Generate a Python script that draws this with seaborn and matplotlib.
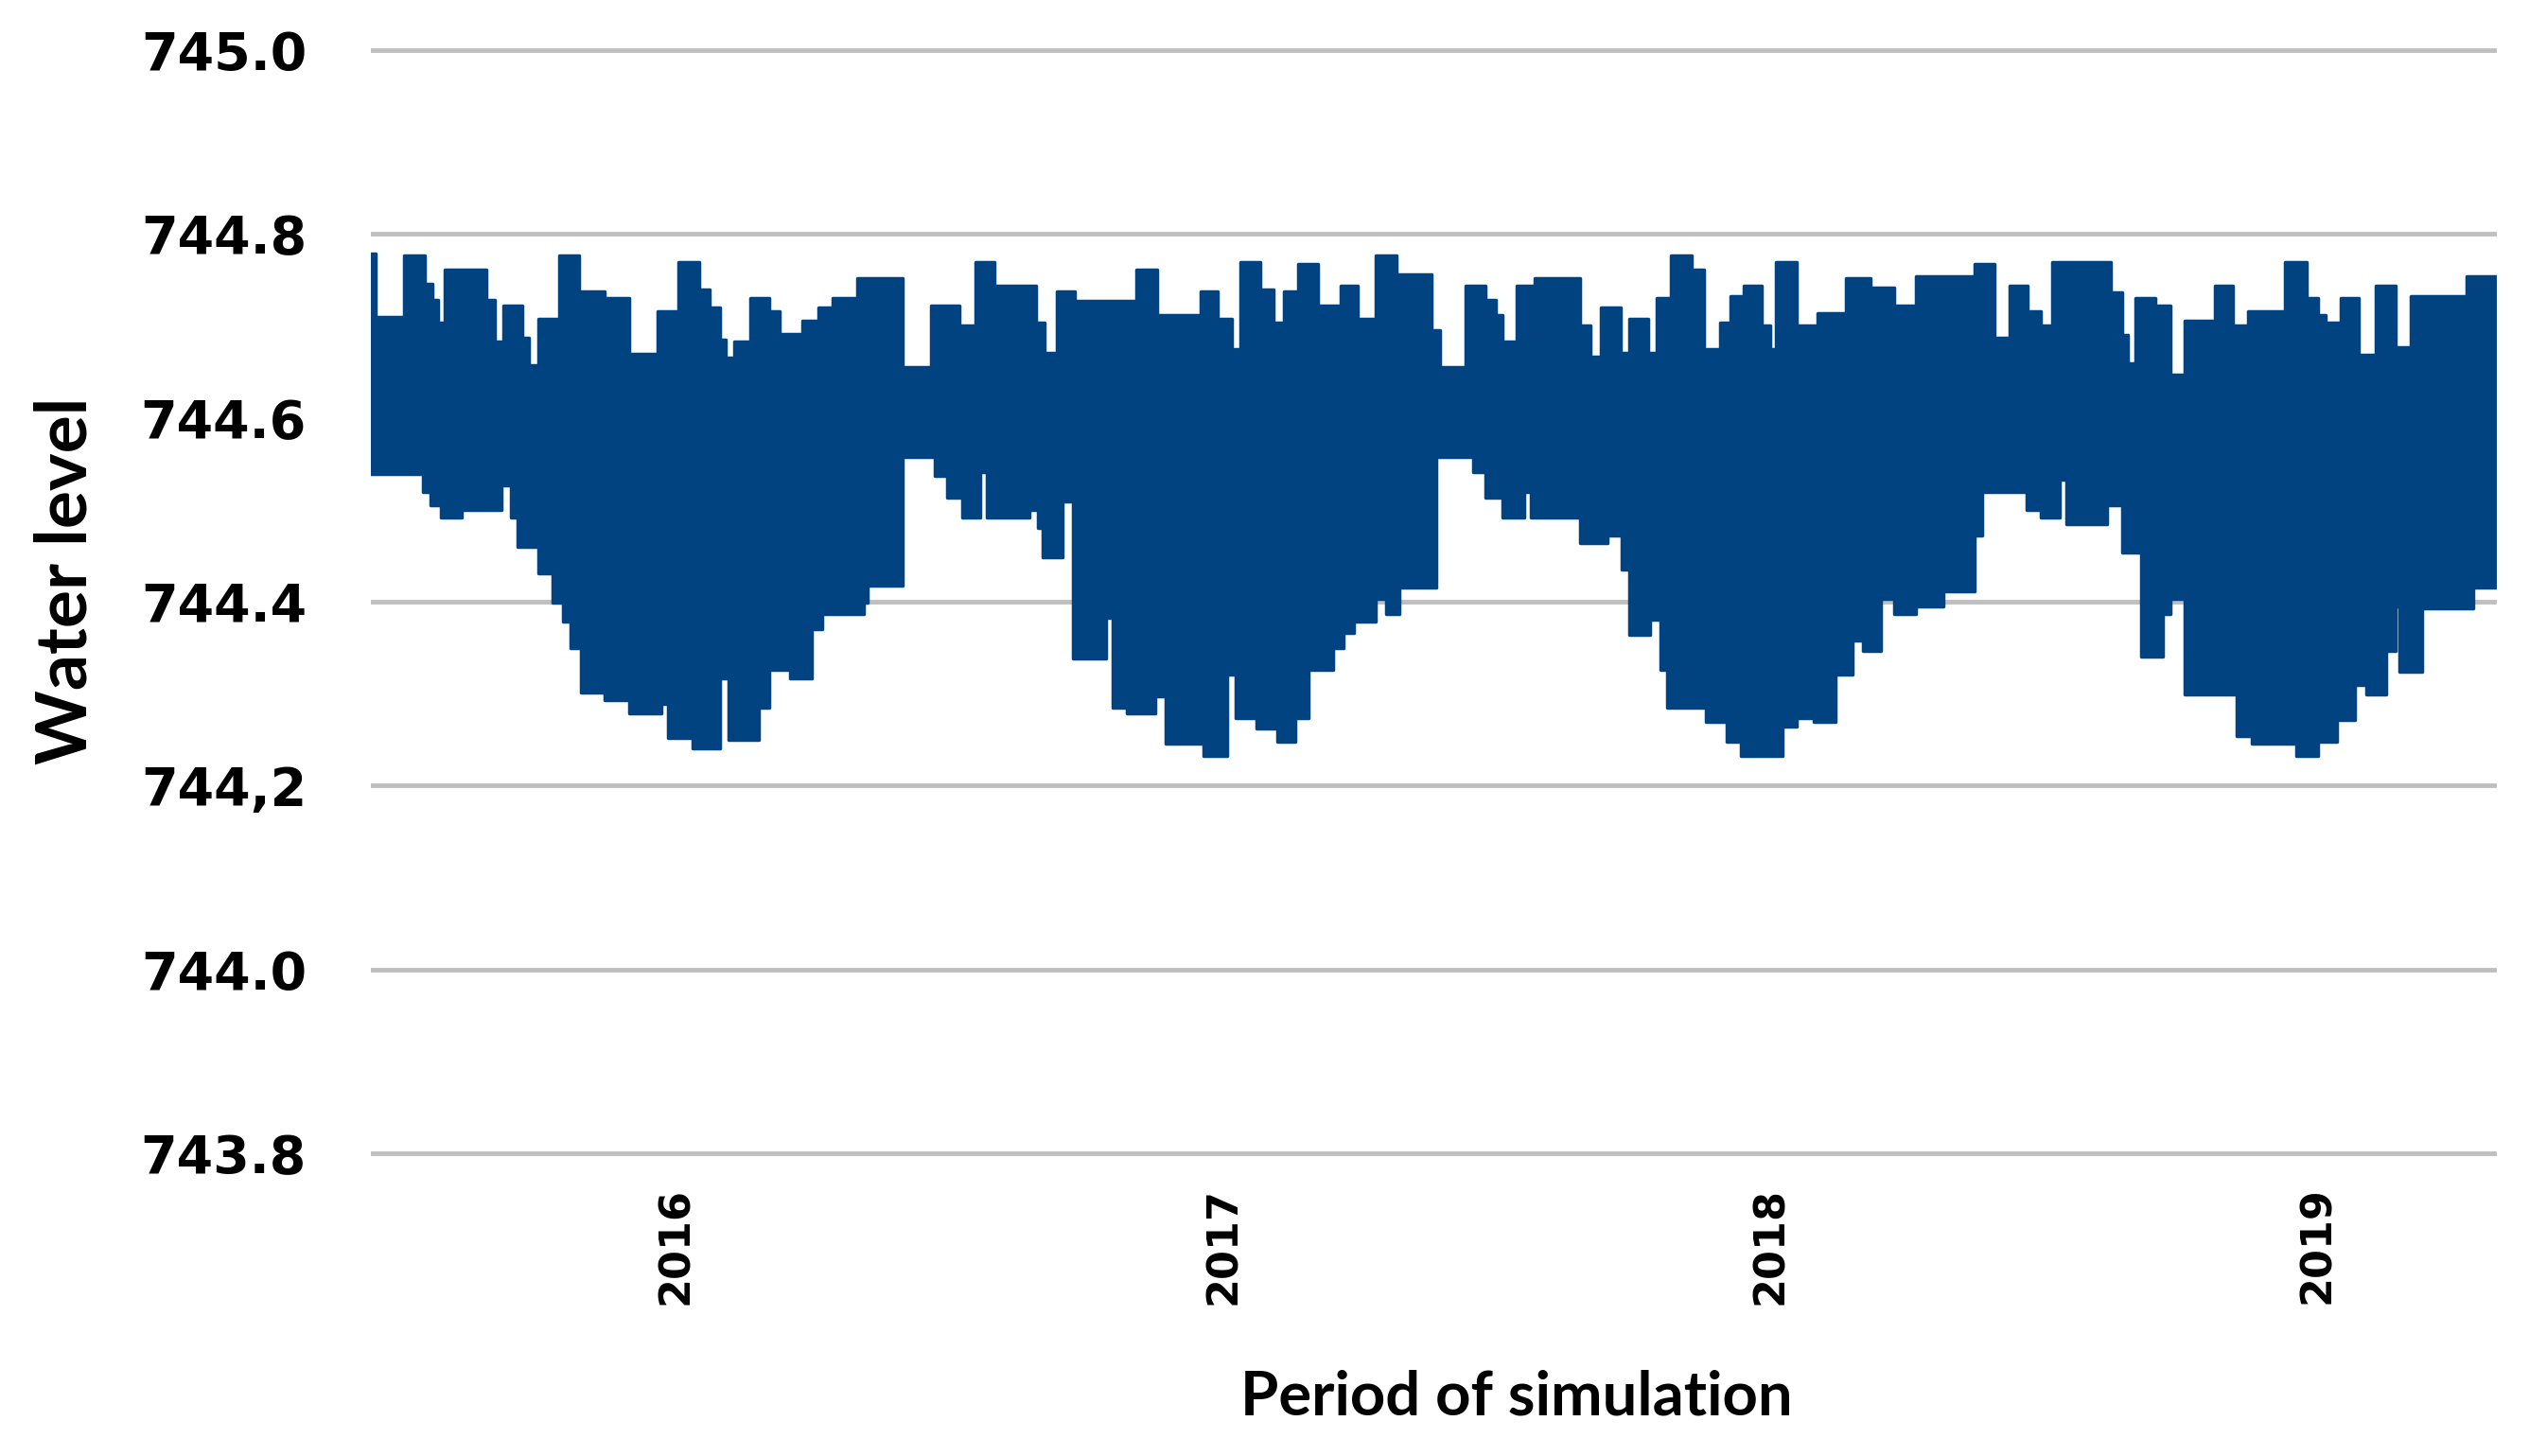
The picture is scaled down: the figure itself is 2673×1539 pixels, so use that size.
import matplotlib

matplotlib.use("Agg")
import matplotlib.pyplot as plt
import numpy as np
import seaborn as sns

# simulated water level, read off as the upper / lower envelope of the daily signal
# time in decimal years, level in m
upper_t = [2015.442, 2015.451, 2015.502, 2015.540, 2015.555, 2015.565, 2015.577, 2015.652,
           2015.668, 2015.684, 2015.719, 2015.731, 2015.748, 2015.786, 2015.822, 2015.869,
           2015.914, 2015.965, 2016.004, 2016.042, 2016.061, 2016.080, 2016.090, 2016.106,
           2016.135, 2016.170, 2016.189, 2016.230, 2016.259, 2016.285, 2016.330, 2016.413,
           2016.466, 2016.517, 2016.546, 2016.581, 2016.657, 2016.672, 2016.696, 2016.728,
           2016.840, 2016.878, 2016.958, 2016.990, 2017.015, 2017.031, 2017.067, 2017.092,
           2017.111, 2017.137, 2017.172, 2017.214, 2017.246, 2017.278, 2017.316, 2017.380,
           2017.395, 2017.443, 2017.478, 2017.497, 2017.510, 2017.536, 2017.568, 2017.651,
           2017.670, 2017.689, 2017.725, 2017.741, 2017.776, 2017.792, 2017.817, 2017.856,
           2017.878, 2017.907, 2017.926, 2017.951, 2017.983, 2017.999, 2018.009, 2018.047,
           2018.086, 2018.137, 2018.182, 2018.226, 2018.265, 2018.372, 2018.409, 2018.436,
           2018.470, 2018.494, 2018.514, 2018.622, 2018.642, 2018.652, 2018.666, 2018.703,
           2018.730, 2018.757, 2018.811, 2018.845, 2018.872, 2018.940, 2018.980, 2019.000,
           2019.014, 2019.041, 2019.075, 2019.105, 2019.142, 2019.169, 2019.271, 2019.327]
upper_lvl = [744.779, 744.710, 744.777, 744.746, 744.728, 744.704, 744.761, 744.728,
             744.683, 744.722, 744.687, 744.657, 744.708, 744.777, 744.738, 744.730,
             744.670, 744.716, 744.769, 744.740, 744.720, 744.685, 744.665, 744.683,
             744.730, 744.716, 744.691, 744.706, 744.720, 744.730, 744.752, 744.655,
             744.722, 744.700, 744.769, 744.744, 744.704, 744.671, 744.738, 744.727,
             744.761, 744.712, 744.738, 744.708, 744.675, 744.769, 744.740, 744.704,
             744.738, 744.767, 744.722, 744.744, 744.708, 744.777, 744.756, 744.695,
             744.655, 744.744, 744.728, 744.712, 744.683, 744.744, 744.752, 744.700,
             744.667, 744.720, 744.671, 744.708, 744.671, 744.730, 744.777, 744.761,
             744.675, 744.704, 744.732, 744.744, 744.700, 744.675, 744.769, 744.700,
             744.714, 744.752, 744.742, 744.722, 744.754, 744.767, 744.687, 744.744,
             744.716, 744.700, 744.769, 744.736, 744.690, 744.659, 744.730, 744.722,
             744.647, 744.706, 744.744, 744.700, 744.716, 744.769, 744.730, 744.712,
             744.704, 744.730, 744.669, 744.744, 744.677, 744.732, 744.754, 744.754]

lower_t = [2015.442, 2015.537, 2015.550, 2015.569, 2015.607, 2015.681, 2015.697, 2015.710,
           2015.748, 2015.774, 2015.793, 2015.806, 2015.825, 2015.869, 2015.914, 2015.972,
           2015.985, 2016.029, 2016.080, 2016.096, 2016.151, 2016.170, 2016.208, 2016.247,
           2016.266, 2016.342, 2016.349, 2016.413, 2016.472, 2016.494, 2016.523, 2016.555,
           2016.568, 2016.645, 2016.660, 2016.670, 2016.705, 2016.725, 2016.785, 2016.798,
           2016.824, 2016.875, 2016.894, 2016.964, 2017.006, 2017.022, 2017.060, 2017.099,
           2017.131, 2017.156, 2017.201, 2017.220, 2017.239, 2017.278, 2017.297, 2017.322,
           2017.389, 2017.456, 2017.478, 2017.510, 2017.549, 2017.562, 2017.651, 2017.702,
           2017.728, 2017.741, 2017.779, 2017.798, 2017.811, 2017.881, 2017.920, 2017.945,
           2018.022, 2018.047, 2018.079, 2018.118, 2018.150, 2018.169, 2018.201, 2018.226,
           2018.265, 2018.316, 2018.372, 2018.386, 2018.467, 2018.494, 2018.528, 2018.541,
           2018.615, 2018.642, 2018.676, 2018.717, 2018.730, 2018.757, 2018.852, 2018.879,
           2018.960, 2019.000, 2019.034, 2019.068, 2019.088, 2019.125, 2019.142, 2019.149,
           2019.190, 2019.284, 2019.327]
lower_lvl = [744.539, 744.519, 744.505, 744.492, 744.500, 744.527, 744.492, 744.460,
             744.431, 744.399, 744.378, 744.350, 744.301, 744.293, 744.279, 744.289,
             744.252, 744.240, 744.317, 744.250, 744.285, 744.326, 744.317, 744.370,
             744.387, 744.399, 744.417, 744.557, 744.537, 744.513, 744.492, 744.541,
             744.492, 744.500, 744.480, 744.448, 744.509, 744.338, 744.383, 744.285,
             744.279, 744.297, 744.246, 744.232, 744.321, 744.273, 744.262, 744.248,
             744.273, 744.326, 744.350, 744.366, 744.378, 744.403, 744.387, 744.415,
             744.557, 744.541, 744.513, 744.492, 744.519, 744.492, 744.464, 744.472,
             744.435, 744.364, 744.380, 744.326, 744.285, 744.269, 744.248, 744.232,
             744.264, 744.273, 744.269, 744.321, 744.358, 744.346, 744.403, 744.387,
             744.395, 744.411, 744.472, 744.519, 744.500, 744.492, 744.533, 744.484,
             744.505, 744.454, 744.340, 744.387, 744.403, 744.299, 744.254, 744.246,
             744.232, 744.248, 744.271, 744.309, 744.299, 744.346, 744.395, 744.324,
             744.393, 744.415, 744.415]

y_ticks = [743.8, 744.0, 744.2, 744.4, 744.6, 744.8, 745.0]
y_tick_labels = ["743.8", "744.0", "744,2", "744.4", "744.6", "744.8", "745.0"]
year_ticks = [2016, 2017, 2018, 2019]
year_labels = ["2016", "2017", "2018", "2019"]

BAND = "#004380"
GRID = "#BFBFBF"

sns.set_style("white")
plt.rcParams["font.family"] = ["DejaVu Sans"]
for key in ("text.color", "axes.labelcolor", "xtick.color", "ytick.color"):
    plt.rcParams[key] = "black"
label_font = ["Lato", "DejaVu Sans"]

fig = plt.figure(figsize=(26.73, 15.39), dpi=100)
ax = fig.add_axes([0.1467, 0.2047, 0.8406, 0.7641])

# put both envelopes on one common time grid so the band can be filled
t_all = np.union1d(upper_t, lower_t)
up_idx = np.searchsorted(upper_t, t_all, side="right") - 1
lo_idx = np.searchsorted(lower_t, t_all, side="right") - 1
up_on_grid = np.asarray(upper_lvl)[up_idx]
lo_on_grid = np.asarray(lower_lvl)[lo_idx]

ax.fill_between(t_all, lo_on_grid, up_on_grid, step="post", color=BAND, lw=0, zorder=2)
sns.lineplot(x=upper_t, y=upper_lvl, drawstyle="steps-post", color=BAND, lw=2.5,
             ax=ax, zorder=3)
sns.lineplot(x=lower_t, y=lower_lvl, drawstyle="steps-post", color=BAND, lw=2.5,
             ax=ax, zorder=3)

ax.set_xlim(upper_t[0], upper_t[-1])
ax.set_ylim(743.795, 745.005)

ax.set_yticks(y_ticks)
ax.set_yticklabels(y_tick_labels, fontsize=40, fontweight="bold")
ax.set_xticks(year_ticks)
ax.set_xticklabels(year_labels, rotation=90, fontsize=32, fontweight="bold")
ax.tick_params(axis="y", length=0, pad=49)
ax.tick_params(axis="x", length=0, pad=22)

ax.set_axisbelow(True)
ax.grid(axis="y", color=GRID, lw=3.5)
ax.grid(axis="x", visible=False)
sns.despine(ax=ax, left=True, bottom=True)

ax.set_xlabel("Period of simulation", fontsize=47, fontweight="bold", family=label_font)
ax.xaxis.set_label_coords(0.539, -0.19)
ax.set_ylabel("Water level", fontsize=54, fontweight="bold", family=label_font)
ax.yaxis.set_label_coords(-0.128, 0.519)

fig.savefig("out.png", dpi=100)
plt.close(fig)
